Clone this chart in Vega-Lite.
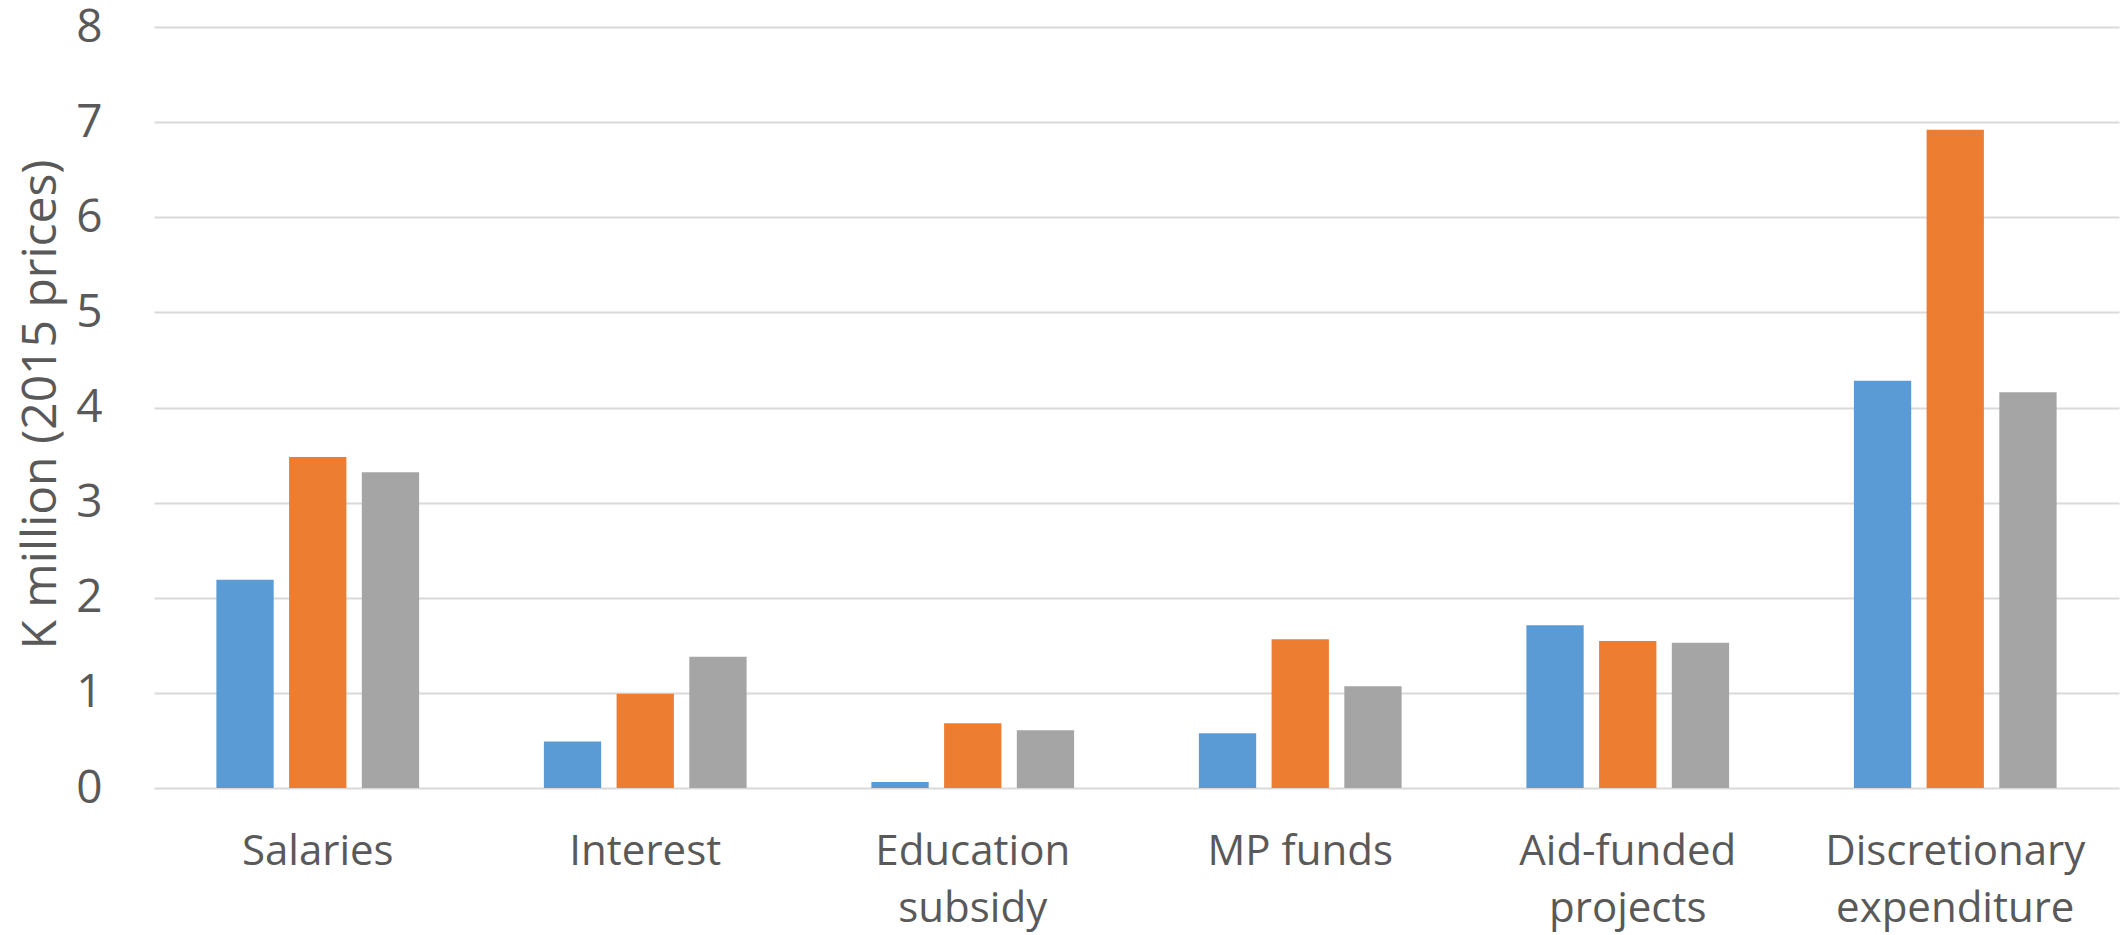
{
  "$schema": "https://vega.github.io/schema/vega-lite/v6.json",
  "width": 1965,
  "height": 761,
  "autosize": {"type": "none"},
  "padding": {"left": 154, "top": 27, "right": 7, "bottom": 147},
  "background": "white",
  "config": {
    "view": {"stroke": null},
    "font": "Open Sans"
  },
  "data": {
    "values": [
      {"category": "Salaries", "series": "Series 1", "value": 2.19},
      {"category": "Salaries", "series": "Series 2", "value": 3.48},
      {"category": "Salaries", "series": "Series 3", "value": 3.32},
      {"category": "Interest", "series": "Series 1", "value": 0.49},
      {"category": "Interest", "series": "Series 2", "value": 0.99},
      {"category": "Interest", "series": "Series 3", "value": 1.38},
      {"category": "Education subsidy", "series": "Series 1", "value": 0.063},
      {"category": "Education subsidy", "series": "Series 2", "value": 0.68},
      {"category": "Education subsidy", "series": "Series 3", "value": 0.607},
      {"category": "MP funds", "series": "Series 1", "value": 0.575},
      {"category": "MP funds", "series": "Series 2", "value": 1.565},
      {"category": "MP funds", "series": "Series 3", "value": 1.07},
      {"category": "Aid-funded projects", "series": "Series 1", "value": 1.71},
      {"category": "Aid-funded projects", "series": "Series 2", "value": 1.546},
      {"category": "Aid-funded projects", "series": "Series 3", "value": 1.527},
      {"category": "Discretionary expenditure", "series": "Series 1", "value": 4.28},
      {"category": "Discretionary expenditure", "series": "Series 2", "value": 6.92},
      {"category": "Discretionary expenditure", "series": "Series 3", "value": 4.16}
    ]
  },
  "mark": {"type": "bar"},
  "encoding": {
    "x": {
      "field": "category",
      "type": "nominal",
      "sort": null,
      "scale": {"paddingInner": 0.381, "paddingOuter": 0.1905},
      "axis": {
        "title": null,
        "domain": false,
        "ticks": false,
        "tickSize": 0,
        "labelAngle": 0,
        "labelFont": "Open Sans",
        "labelFontSize": 42,
        "labelColor": "#595959",
        "labelPadding": 43,
        "labelLineHeight": 57,
        "labelLimit": 0,
        "labelOverlap": false,
        "labelBaseline": "top",
        "labelExpr": "(indexof(datum.label, ' ') > 0 && datum.label != 'MP funds') ? split(datum.label, ' ') : datum.label"
      }
    },
    "xOffset": {
      "field": "series",
      "type": "nominal",
      "scale": {"paddingInner": 0.212, "paddingOuter": 0}
    },
    "y": {
      "field": "value",
      "type": "quantitative",
      "scale": {"domain": [0, 8], "nice": false},
      "axis": {
        "title": "K million (2015 prices)",
        "values": [0, 1, 2, 3, 4, 5, 6, 7, 8],
        "domain": false,
        "ticks": false,
        "tickSize": 0,
        "grid": true,
        "gridColor": "#d9d9d9",
        "gridWidth": 2,
        "labelFont": "Open Sans",
        "labelFontSize": 46,
        "labelColor": "#595959",
        "labelPadding": 52,
        "titleFont": "Open Sans",
        "titleFontSize": 48,
        "titleFontWeight": "normal",
        "titleColor": "#595959",
        "titleAngle": -90,
        "titleX": -99,
        "titleY": 377,
        "titleAlign": "center",
        "titleBaseline": "alphabetic"
      }
    },
    "color": {
      "field": "series",
      "type": "nominal",
      "scale": {"domain": ["Series 1", "Series 2", "Series 3"], "range": ["#5B9BD5", "#ED7D31", "#A5A5A5"]},
      "legend": null
    }
  }
}
